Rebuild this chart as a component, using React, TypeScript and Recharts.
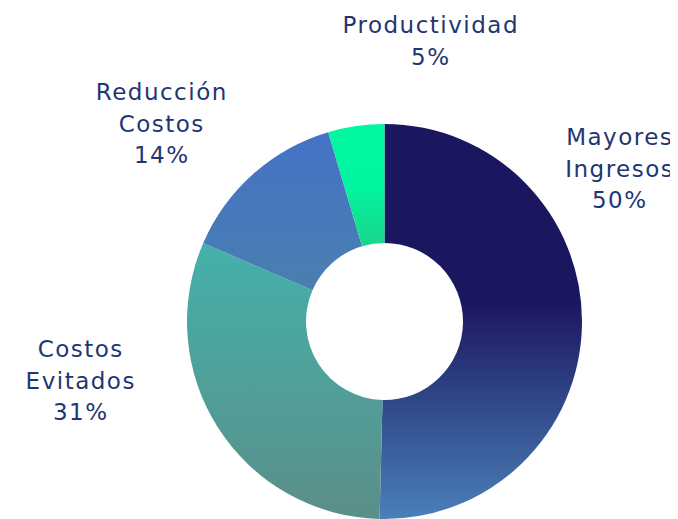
import React from "react";
import { PieChart, Pie, Cell } from "recharts";

const categories = ["Mayores Ingresos", "Costos Evitados", "Reducción Costos", "Productividad"];
const labelLines = [["Mayores", "Ingresos"], ["Costos", "Evitados"], ["Reducción", "Costos"], ["Productividad"]];
const values = [50.4, 31.1, 13.9, 4.6];
const percentLabels = ["50%", "31%", "14%", "5%"];

const data = categories.map((name, i) => ({ name, value: values[i] }));

const gradients = [
  { id: "g0", stops: [["0%", "#1b1660"], ["45%", "#1b1660"], ["100%", "#4a80b8"]] },
  { id: "g1", stops: [["0%", "#44b1aa"], ["100%", "#5b8e89"]] },
  { id: "g2", stops: [["0%", "#4472c6"], ["100%", "#4a7fb0"]] },
  { id: "g3", stops: [["0%", "#00f8a0"], ["50%", "#00f5a0"], ["100%", "#1ad58b"]] },
];

// label anchor offsets relative to pie center (first baseline)
const labelOffsets = [
  { dx: 234.5, dy: -176.5 },
  { dx: -304.5, dy: 35.5 },
  { dx: -223.5, dy: -221.5 },
  { dx: 45.5, dy: -288.5 },
];

const TEXT_COLOR = "#1f3672";
const LINE_H = 31.5;
const LS = 1.5;

const renderLabel = (props: any) => {
  const { cx, cy, index } = props;
  const off = labelOffsets[index];
  const lines = [...labelLines[index], percentLabels[index]];
  const x = cx + off.dx + LS / 2;
  return (
    <text
      key={`lbl-${index}`}
      x={x}
      y={cy + off.dy}
      textAnchor="middle"
      fill={TEXT_COLOR}
      fontSize={23}
      letterSpacing={LS}
      fontFamily="'Century Gothic', 'DejaVu Sans', sans-serif"
    >
      {lines.map((l, i) => (
        <tspan key={i} x={x} dy={i === 0 ? 0 : LINE_H}>
          {l}
        </tspan>
      ))}
    </text>
  );
};

export default function App() {
  return (
    <div style={{ marginLeft: -8, marginTop: -8, width: 678, height: 519, background: "#fff" }}>
      <PieChart width={678} height={519} margin={{ top: 0, right: 0, bottom: 0, left: 0 }}>
        <defs>
          {gradients.map((g) => (
            <linearGradient key={g.id} id={g.id} x1="0" y1="0" x2="0" y2="1">
              {g.stops.map(([o, c], i) => (
                <stop key={i} offset={o} stopColor={c} />
              ))}
            </linearGradient>
          ))}
        </defs>
        <Pie
          data={data}
          dataKey="value"
          nameKey="name"
          cx={384.5}
          cy={321.5}
          innerRadius={78.5}
          outerRadius={197.5}
          startAngle={90}
          endAngle={-270}
          stroke="none"
          isAnimationActive={false}
          labelLine={false}
          label={renderLabel}
        >
          {data.map((d, i) => (
            <Cell key={d.name} fill={`url(#g${i})`} />
          ))}
        </Pie>
      </PieChart>
    </div>
  );
}
